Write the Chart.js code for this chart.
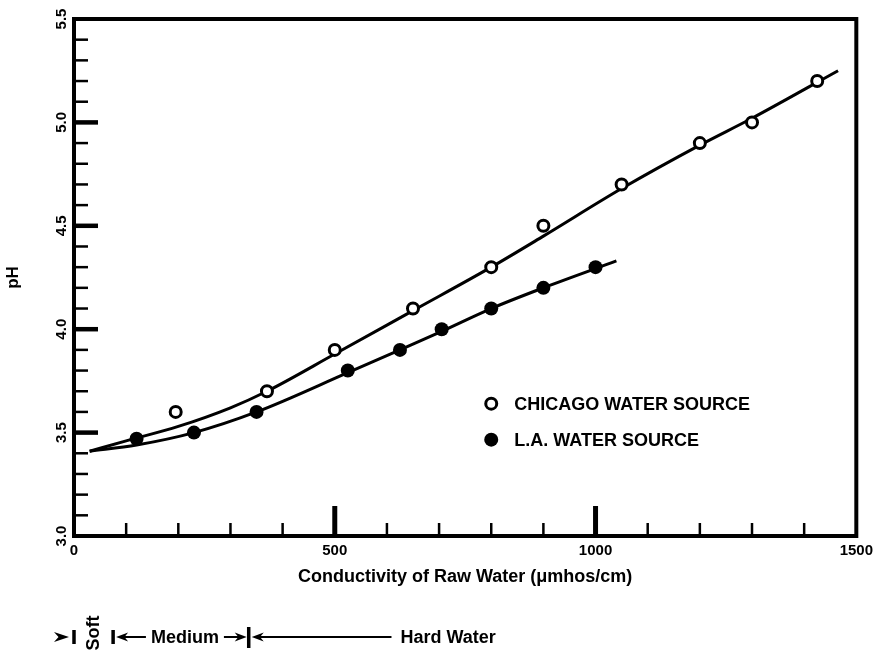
<!DOCTYPE html>
<html>
<head>
<meta charset="utf-8">
<script src="https://cdn.jsdelivr.net/npm/chart.js@4"></script>
<style>
  html, body { margin: 0; padding: 0; background: #fff; }
</style>
</head>
<body>
<canvas id="phChart" width="879" height="653"></canvas>
<script>
// measured points
const chicagoX = [195, 370, 500, 650, 800, 900, 1050, 1200, 1300, 1425];
const chicagoPH = [3.6, 3.7, 3.9, 4.1, 4.3, 4.5, 4.7, 4.9, 5.0, 5.2];
const laX = [120, 230, 350, 525, 625, 705, 800, 900, 1000];
const laPH = [3.47, 3.5, 3.6, 3.8, 3.9, 4.0, 4.1, 4.2, 4.3];

// hand drawn fit curves
const chicagoFitX = [30, 100, 200, 300, 370, 500, 650, 800, 900, 1050, 1200, 1300, 1465];
const chicagoFitPH = [3.41, 3.46, 3.53, 3.62, 3.70, 3.88, 4.09, 4.30, 4.45, 4.68, 4.89, 5.02, 5.25];
const laFitX = [30, 120, 230, 350, 525, 625, 705, 800, 900, 1040];
const laFitPH = [3.41, 3.44, 3.50, 3.60, 3.79, 3.90, 3.99, 4.10, 4.20, 4.33];

const xMajor = [0, 500, 1000, 1500];
const yMajor = [3.0, 3.5, 4.0, 4.5, 5.0, 5.5];

// water hardness ranges under the axis
const hardnessBounds = [0, 75, 335];
const hardnessLabels = ["Soft", "Medium", "Hard Water"];

const seriesNames = ["CHICAGO WATER SOURCE", "L.A. WATER SOURCE"];

const FONT = '"Liberation Sans", Arial, Helvetica, sans-serif';

function toXY(xs, ys) {
  return xs.map((x, i) => ({ x: x, y: ys[i] }));
}

function isMajor(list, v) {
  return list.some(m => Math.abs(m - v) < 1e-6);
}

function arrowHead(ctx, tipX, tipY, dir, len, half) {
  ctx.beginPath();
  ctx.moveTo(tipX, tipY);
  ctx.lineTo(tipX - dir * len, tipY - half);
  ctx.lineTo(tipX - dir * len * 0.7, tipY);
  ctx.lineTo(tipX - dir * len, tipY + half);
  ctx.closePath();
  ctx.fill();
}

const paperPlugin = {
  id: "paper",
  afterDraw(chart) {
    const { ctx, chartArea: a, scales: { x, y } } = chart;
    ctx.save();
    ctx.strokeStyle = "#000";
    ctx.fillStyle = "#000";

    // frame
    ctx.lineWidth = 4;
    ctx.strokeRect(a.left, a.top, a.right - a.left, a.bottom - a.top);

    // inward tick marks
    x.ticks.forEach(t => {
      if (t.value <= x.min || t.value >= x.max) return;
      const major = isMajor(xMajor, t.value);
      const px = x.getPixelForValue(t.value);
      ctx.lineWidth = major ? 5 : 2.5;
      ctx.beginPath();
      ctx.moveTo(px, a.bottom);
      ctx.lineTo(px, a.bottom - (major ? 30 : 13));
      ctx.stroke();
    });
    y.ticks.forEach(t => {
      if (t.value <= y.min + 1e-6 || t.value >= y.max - 1e-6) return;
      const major = isMajor(yMajor, t.value);
      const py = y.getPixelForValue(t.value);
      ctx.lineWidth = major ? 4.5 : 2.5;
      ctx.beginPath();
      ctx.moveTo(a.left, py);
      ctx.lineTo(a.left + (major ? 24 : 14), py);
      ctx.stroke();
    });

    // legend
    const lx = x.getPixelForValue(800);
    const ly = y.getPixelForValue(3.64);
    ctx.font = "bold 18px " + FONT;
    ctx.textBaseline = "middle";
    ctx.textAlign = "left";
    ctx.lineWidth = 3;
    ctx.beginPath();
    ctx.arc(lx, ly, 5.5, 0, Math.PI * 2);
    ctx.fillStyle = "#fff";
    ctx.fill();
    ctx.stroke();
    ctx.fillStyle = "#000";
    ctx.fillText(seriesNames[0], lx + 23, ly + 1);
    ctx.beginPath();
    ctx.arc(lx, ly + 36, 7, 0, Math.PI * 2);
    ctx.fill();
    ctx.fillText(seriesNames[1], lx + 23, ly + 37);

    // hardness ranges
    const rowY = a.bottom + 101;
    const b0 = x.getPixelForValue(hardnessBounds[0]);
    const b1 = x.getPixelForValue(hardnessBounds[1]);
    const b2 = x.getPixelForValue(hardnessBounds[2]);
    ctx.font = "bold 18px " + FONT;
    ctx.lineWidth = 3.5;
    // soft
    arrowHead(ctx, b0 - 5, rowY, 1, 15, 5);
    [b0, b1].forEach(bx => {
      ctx.beginPath();
      ctx.moveTo(bx, rowY - 7);
      ctx.lineTo(bx, rowY + 7);
      ctx.stroke();
    });
    ctx.save();
    ctx.translate((b0 + b1) / 2, rowY - 4);
    ctx.rotate(-Math.PI / 2);
    ctx.textAlign = "center";
    ctx.fillText(hardnessLabels[0], 0, 0);
    ctx.restore();
    // medium
    ctx.textAlign = "center";
    const midX = (b1 + b2) / 2 + 4;
    const medW = ctx.measureText(hardnessLabels[1]).width;
    ctx.fillText(hardnessLabels[1], midX, rowY + 1);
    ctx.lineWidth = 2;
    ctx.beginPath();
    ctx.moveTo(b1 + 8, rowY);
    ctx.lineTo(midX - medW / 2 - 5, rowY);
    ctx.moveTo(midX + medW / 2 + 5, rowY);
    ctx.lineTo(b2 - 8, rowY);
    ctx.stroke();
    arrowHead(ctx, b1 + 3, rowY, -1, 12, 4.5);
    arrowHead(ctx, b2 - 2, rowY, 1, 12, 4.5);
    ctx.lineWidth = 3.5;
    ctx.beginPath();
    ctx.moveTo(b2, rowY - 10);
    ctx.lineTo(b2, rowY + 11);
    ctx.stroke();
    // hard
    const hardX = x.getPixelForValue(626);
    arrowHead(ctx, b2 + 3, rowY, -1, 12, 4.5);
    ctx.lineWidth = 2;
    ctx.beginPath();
    ctx.moveTo(b2 + 8, rowY);
    ctx.lineTo(hardX - 9, rowY);
    ctx.stroke();
    ctx.textAlign = "left";
    ctx.fillText(hardnessLabels[2], hardX, rowY + 1);

    ctx.restore();
  }
};

const ctx = document.getElementById("phChart").getContext("2d");

const phChart = new Chart(ctx, {
  type: "scatter",
  data: {
    datasets: [
      {
        label: seriesNames[0],
        data: toXY(chicagoX, chicagoPH),
        pointRadius: 5.5,
        pointBorderWidth: 3,
        pointBackgroundColor: "#fff",
        pointBorderColor: "#000",
        order: 1,
      },
      {
        label: seriesNames[1],
        data: toXY(laX, laPH),
        pointRadius: 7,
        pointBorderWidth: 0,
        pointBackgroundColor: "#000",
        pointBorderColor: "#000",
        order: 1,
      },
      {
        label: "Chicago fit",
        data: toXY(chicagoFitX, chicagoFitPH),
        showLine: true,
        borderColor: "#000",
        borderWidth: 3,
        pointRadius: 0,
        cubicInterpolationMode: "monotone",
        order: 2,
      },
      {
        label: "L.A. fit",
        data: toXY(laFitX, laFitPH),
        showLine: true,
        borderColor: "#000",
        borderWidth: 3,
        pointRadius: 0,
        cubicInterpolationMode: "monotone",
        order: 2,
      },
    ],
  },
  options: {
    responsive: false,
    animation: false,
    layout: { padding: { left: 0, top: 19, right: 19, bottom: 0 } },
    plugins: {
      legend: { display: false },
      tooltip: { enabled: false },
    },
    scales: {
      x: {
        type: "linear",
        min: 0,
        max: 1500,
        grid: { display: false, drawTicks: false },
        border: { display: false },
        ticks: {
          stepSize: 100,
          autoSkip: false,
          maxRotation: 0,
          padding: 6,
          color: "#000",
          font: { family: FONT, size: 15, weight: "bold" },
          callback: v => (isMajor(xMajor, v) ? String(v) : ""),
        },
        title: {
          display: true,
          text: "Conductivity of Raw Water (\u03bcmhos/cm)",
          color: "#000",
          font: { family: FONT, size: 18, weight: "bold" },
          padding: { top: 0, bottom: 65 },
        },
        afterFit: scale => { scale.height = 117; },
      },
      y: {
        min: 3,
        max: 5.5,
        grid: { display: false, drawTicks: false },
        border: { display: false },
        ticks: {
          stepSize: 0.1,
          autoSkip: false,
          minRotation: 90,
          maxRotation: 90,
          crossAlign: "center",
          padding: 2,
          color: "#000",
          font: { family: FONT, size: 15, weight: "bold" },
          callback: v => (isMajor(yMajor, v) ? v.toFixed(1) : ""),
        },
        title: {
          display: true,
          text: "pH",
          color: "#000",
          font: { family: FONT, size: 17, weight: "bold" },
          padding: { top: 3, bottom: 0 },
        },
        afterFit: scale => { scale.width = 74; },
      },
    },
  },
  plugins: [paperPlugin],
});
</script>
</body>
</html>
